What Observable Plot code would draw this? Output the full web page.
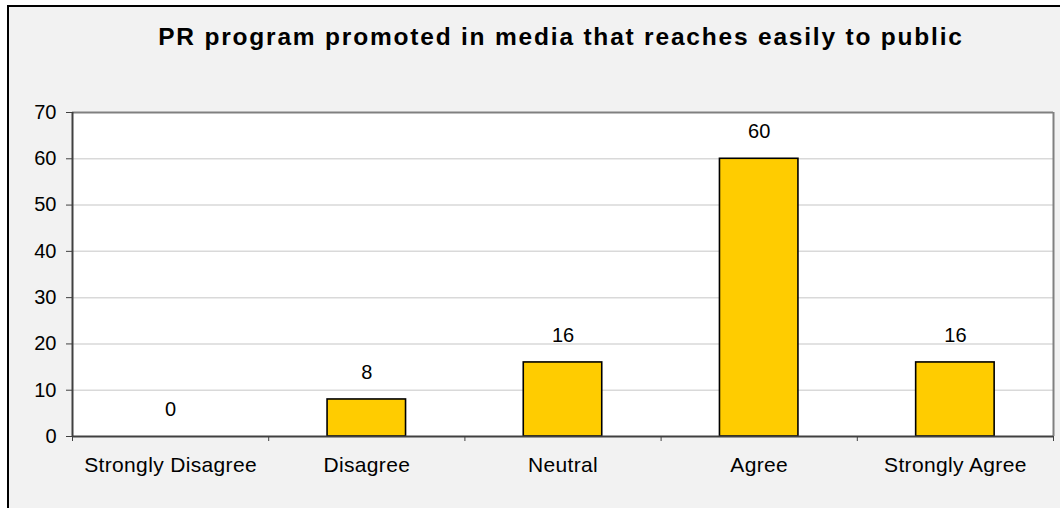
<!DOCTYPE html>
<html>
<head>
<meta charset="utf-8">
<script src="https://cdn.jsdelivr.net/npm/d3@7"></script>
<script src="https://cdn.jsdelivr.net/npm/@observablehq/plot@0.6"></script>
<style>
  html, body { margin: 0; padding: 0; background: #ffffff; }
  body { width: 1060px; height: 508px; position: relative; overflow: hidden; font-family: "Liberation Sans", Arial, sans-serif; }
  #frame { position: absolute; left: 7px; top: 5px; width: 1100px; height: 600px; background: #f2f2f2; border-left: 2px solid #000; border-top: 2px solid #000; }
  #title { position: absolute; left: 0; top: 25px; width: 1122px; text-align: center; font-size: 24.5px; line-height: 24px; font-weight: bold; letter-spacing: 1.8px; color: #000; white-space: nowrap; }
  #chart { position: absolute; left: 0; top: 80px; }
  #chart .cat text, #chart text.cat { letter-spacing: 0.35px; }
</style>
</head>
<body>
<div id="frame"></div>
<div id="title">PR program promoted in media that reaches easily to public</div>
<div id="chart"></div>
<script>
const categories = ["Strongly Disagree", "Disagree", "Neutral", "Agree", "Strongly Agree"];
const values = [0, 8, 16, 60, 16];
const yTicks = [0, 10, 20, 30, 40, 50, 60, 70];

const data = categories.map((c, i) => ({category: c, index: i, value: values[i]}));
const boundaries = d3.range(categories.length + 1);

const chart = Plot.plot({
  width: 1060,
  height: 428,
  marginTop: 32,
  marginBottom: 72,
  marginLeft: 72,
  marginRight: 7,
  style: {background: "transparent", fontFamily: "Liberation Sans, Arial, sans-serif", fontSize: "20px", color: "#000"},
  x: {type: "linear", domain: [0, categories.length], axis: null, label: null},
  y: {type: "linear", domain: [0, 70], axis: null, label: null},
  marks: [
    Plot.frame({fill: "#ffffff", stroke: null}),
    Plot.ruleY(yTicks.filter(t => t > 0 && t < 70), {stroke: "#d9d9d9", strokeWidth: 1.5}),
    Plot.ruleY([70], {stroke: "#808080", strokeWidth: 2}),
    Plot.ruleX([categories.length], {y1: 0, y2: 70, stroke: "#808080", strokeWidth: 2}),
    Plot.rect(data, {x1: d => d.index + 0.3, x2: d => d.index + 0.7, y1: 0, y2: "value", fill: "#ffcc00", stroke: "#000", strokeWidth: 1.6}),
    Plot.ruleY([0], {stroke: "#404040", strokeWidth: 2}),
    Plot.ruleX([0], {y1: 0, y2: 70, stroke: "#404040", strokeWidth: 2}),
    Plot.ruleX(boundaries, {x: d => d, y1: 0, y2: 0, insetBottom: -5, stroke: "#404040", strokeWidth: 1}),
    Plot.axisY(yTicks, {tickSize: 6, tickPadding: 10, stroke: "#404040", fontSize: 20, fill: "#000", label: null}),
    Plot.text(data, {x: d => d.index + 0.5, y: "value", text: d => String(d.value), dy: -27, fontSize: 20, fill: "#000", textAnchor: "middle", lineAnchor: "middle"}),
    Plot.text(data, {x: d => d.index + 0.5, y: 0, text: "category", dy: 29, fontSize: 21, fill: "#000", textAnchor: "middle", lineAnchor: "middle", className: "cat"})
  ]
});
document.getElementById("chart").appendChild(chart);
</script>
</body>
</html>
